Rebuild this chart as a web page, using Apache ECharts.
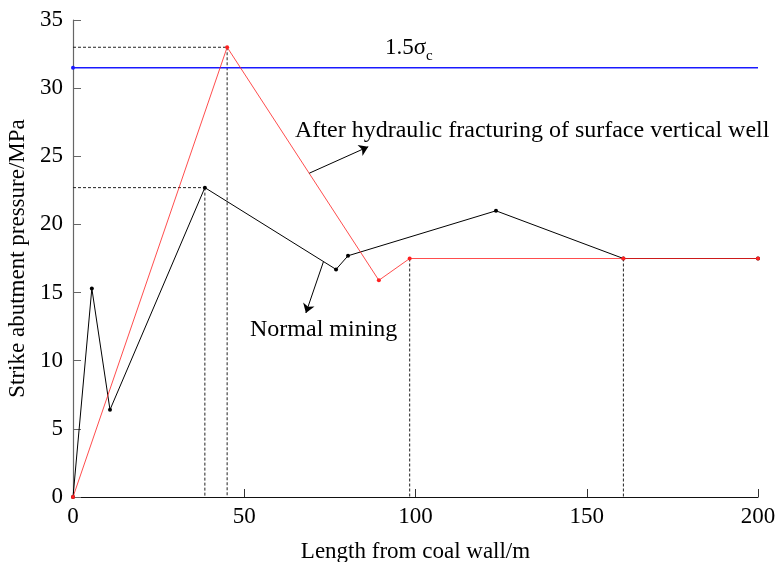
<!DOCTYPE html>
<html>
<head>
<meta charset="utf-8">
<script src="https://cdn.jsdelivr.net/npm/echarts@6/dist/echarts.min.js"></script>
<style>
  html, body { margin: 0; padding: 0; background: #fff; }
  #main { width: 776px; height: 562px; }
</style>
</head>
<body>
<div id="main"></div>
<script>
// Normal mining (black)
const normalX = [0, 5.5, 10.8, 38.5, 76.8, 80.3, 123.5, 160.7, 200];
const normalY = [0, 15.3, 6.4, 22.7, 16.7, 17.7, 21.0, 17.5, 17.5];
// After hydraulic fracturing of surface vertical well (red)
const fracX = [0, 45, 89.3, 98.3, 160.7, 200];
const fracY = [0, 33.0, 15.9, 17.5, 17.5, 17.5];
// 1.5σc limit line
const limitX = [0, 200];
const limitY = 31.5;
const xTicks = [0, 50, 100, 150, 200];
const yTicks = [0, 5, 10, 15, 20, 25, 30, 35];

// dashed guides: [series, point index, horizontal guide?]
const guides = [['frac', 1, true], ['normal', 3, true], ['frac', 3, false], ['normal', 7, false]];
// annotation arrows (data coords): from -> to
const arrowFrac = [[69.0, 23.76], [86.2, 25.7]];
const arrowNormal = [[73.1, 17.25], [68.0, 13.5]];

const FONT = 'Liberation Serif, Times New Roman, serif';

const pts = (xs, ys) => xs.map((x, i) => [x, ys[i]]);
const src = { normal: pts(normalX, normalY), frac: pts(fracX, fracY) };

const guideSeries = [];
guides.forEach(g => {
  const p = src[g[0]][g[1]];
  guideSeries.push({
    type: 'line', data: [[p[0], p[1]], [p[0], 0]], symbol: 'none', z: 1,
    lineStyle: { color: '#222', width: 1, type: [3, 2] }
  });
  if (g[2]) {
    guideSeries.push({
      type: 'line', data: [[0, p[1]], [p[0], p[1]]], symbol: 'none', z: 1,
      lineStyle: { color: '#222', width: 1, type: [3, 2] }
    });
  }
});

const arrowMark = (a) => ({
  silent: true,
  symbol: ['none', 'arrow'],
  symbolSize: 9,
  label: { show: false },
  itemStyle: { color: '#000' },
  lineStyle: { color: '#000', width: 1, type: 'solid' },
  data: [[{ coord: a[0] }, { coord: a[1] }]]
});

const chart = echarts.init(document.getElementById('main'));
chart.setOption({
  animation: false,
  backgroundColor: '#fff',
  grid: { left: 73, right: 18, top: 20, bottom: 65, outerBoundsMode: 'none', containLabel: false },
  xAxis: {
    type: 'value', min: xTicks[0], max: xTicks[xTicks.length - 1], interval: 50,
    name: 'Length from coal wall/m', nameLocation: 'middle', nameGap: 43,
    nameTextStyle: { fontFamily: FONT, fontSize: 23, color: '#000', verticalAlign: 'top' },
    axisLine: { lineStyle: { color: '#111', width: 1.2 } },
    axisTick: { inside: true, length: 8, lineStyle: { color: '#333' } },
    axisLabel: { fontFamily: FONT, fontSize: 23, color: '#000', margin: 8 },
    splitLine: { show: false }
  },
  yAxis: {
    type: 'value', min: yTicks[0], max: yTicks[yTicks.length - 1], interval: 5,
    name: 'Strike abutment pressure/MPa', nameLocation: 'middle', nameGap: 38,
    nameRotate: 90,
    nameTextStyle: { fontFamily: FONT, fontSize: 23, color: '#000' },
    axisLine: { show: true, lineStyle: { color: '#666', width: 1.2 } },
    axisTick: { show: true, inside: true, length: 8, lineStyle: { color: '#666' } },
    axisLabel: { fontFamily: FONT, fontSize: 23, color: '#000', margin: 10 },
    splitLine: { show: false }
  },
  graphic: [
    { type: 'text', left: 385, top: 36, style: { text: '1.5σ', font: '23px ' + FONT, fill: '#000' } },
    { type: 'text', left: 426, top: 49, style: { text: 'c', font: '15px ' + FONT, fill: '#000' } },
    { type: 'text', left: 295, top: 119, style: { text: 'After hydraulic fracturing of surface vertical well', font: '24px ' + FONT, fill: '#000' } },
    { type: 'text', left: 250, top: 318, style: { text: 'Normal mining', font: '24px ' + FONT, fill: '#000' } }
  ],
  series: guideSeries.concat([
    {
      name: '1.5σc', type: 'line', z: 2, color: '#1a1aff',
      data: limitX.map((x, i) => ({ value: [x, limitY], symbolSize: i === 0 ? 4 : 0 })),
      symbol: 'circle', showSymbol: true,
      itemStyle: { color: '#1a1aff' },
      lineStyle: { color: '#1a1aff', width: 1.6 }
    },
    {
      name: 'Normal mining', type: 'line', z: 3,
      data: src.normal, symbol: 'circle', symbolSize: 4,
      itemStyle: { color: '#000' },
      lineStyle: { color: '#000', width: 1 },
      markLine: arrowMark(arrowNormal)
    },
    {
      name: 'After hydraulic fracturing', type: 'line', z: 4,
      data: src.frac, symbol: 'circle', symbolSize: 4,
      itemStyle: { color: '#ff2020' },
      lineStyle: { color: '#ff2020', width: 1, opacity: 0.8 },
      markLine: arrowMark(arrowFrac)
    }
  ])
});
</script>
</body>
</html>
